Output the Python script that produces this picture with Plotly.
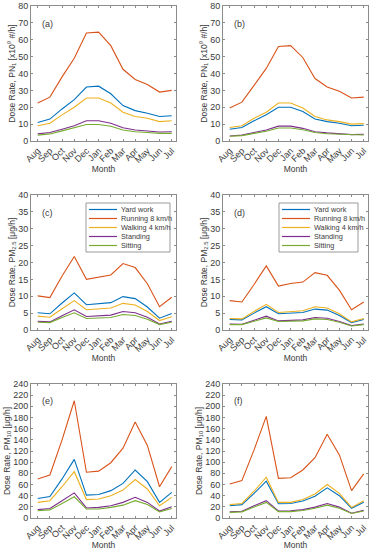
import plotly.graph_objects as go

months = ["Aug", "Sep", "Oct", "Nov", "Dec", "Jan", "Feb", "Mar", "Apr", "May", "Jun", "Jul"]
series_names = ["Yard work", "Running 8 km/h", "Walking 4 km/h", "Standing", "Sitting"]
colors = ["#0072BD", "#D95319", "#EDB120", "#7E2F8E", "#77AC30"]

# Panel (a) PN1
a_yard = [11, 13, 19, 24.5, 32, 32.5, 28, 21, 18, 16.5, 14.5, 15]
a_run = [22.5, 26, 38, 49, 64, 64.5, 56.5, 42.5, 36.5, 33.5, 29, 30]
a_walk = [9, 10.5, 15.5, 20, 25.5, 25.5, 22.5, 17, 14.5, 13.5, 11.5, 12]
a_stand = [4.2, 5, 7, 9, 12, 12, 10.5, 7.8, 6.5, 6, 5.3, 5.5]
a_sit = [3.5, 4.2, 6, 7.7, 9.8, 9.8, 8.7, 6.5, 5.5, 5, 4.5, 4.5]

# Panel (b) PN1
b_yard = [7, 8, 12, 15.5, 20, 20, 17.5, 13, 11.5, 10.5, 9, 9.3]
b_run = [19.5, 23, 33, 43, 56, 56.5, 49.5, 37, 32, 29.5, 25.5, 26]
b_walk = [8, 9, 13.5, 17, 22.5, 22.5, 19.5, 14.5, 12.5, 11.5, 10, 10.3]
b_stand = [3, 3.5, 5, 6.5, 8.8, 8.8, 7.5, 5.5, 4.8, 4.3, 3.8, 4]
b_sit = [2.8, 3.2, 4.5, 5.8, 7.7, 7.7, 6.7, 5, 4.3, 4, 3.5, 3.6]

# Panel (c) PM2.5
c_yard = [5.1, 4.8, 8, 11, 7.5, 7.9, 8.1, 9.9, 9.3, 6.8, 3.5, 4.9]
c_run = [10.1, 9.6, 16, 21.8, 15, 15.7, 16.3, 19.7, 18.5, 13.7, 6.9, 9.7]
c_walk = [4.1, 3.8, 6.3, 8.7, 6, 6.3, 6.5, 7.9, 7.4, 5.5, 2.8, 3.9]
c_stand = [2.6, 2.4, 4.2, 6, 4, 4.2, 4.4, 5.5, 5.1, 3.8, 1.8, 2.6]
c_sit = [2.3, 2.2, 3.7, 5.1, 3.4, 3.6, 3.7, 4.6, 4.3, 3.2, 1.6, 2.3]

# Panel (d) PM2.5
d_yard = [3.1, 3.0, 5, 6.9, 4.8, 5.0, 5.2, 6.2, 5.9, 4.3, 2.2, 3.1]
d_run = [8.7, 8.3, 13.5, 19, 13, 13.8, 14.2, 17, 16.2, 11.8, 6, 8.3]
d_walk = [3.4, 3.3, 5.5, 7.6, 5.2, 5.5, 5.7, 6.9, 6.5, 4.8, 2.4, 3.4]
d_stand = [1.8, 1.7, 2.9, 4.1, 2.7, 2.9, 3.0, 3.7, 3.5, 2.5, 1.3, 1.8]
d_sit = [1.6, 1.6, 2.6, 3.6, 2.5, 2.6, 2.7, 3.3, 3.1, 2.3, 1.2, 1.6]

# Panel (e) PM10
e_yard = [35, 38.5, 70, 105, 41, 42, 49, 62, 86, 65, 28, 46]
e_run = [70, 77, 140, 210, 82, 84, 99, 125, 172, 130, 56, 92]
e_walk = [28, 31, 56, 83, 33, 34, 40, 50, 69, 52, 22, 37]
e_stand = [15, 17, 31, 45, 18, 19, 22, 28, 37, 28, 12.5, 20]
e_sit = [13, 14.5, 26, 38, 16, 16, 19, 23, 31, 24, 11, 17]

# Panel (f) PM10
f_yard = [22, 24, 44, 66, 25.5, 26, 30.5, 39, 54, 40, 17.5, 28]
f_run = [61, 67, 122, 182, 71, 72, 86, 108, 150, 113, 49, 79]
f_walk = [24, 26, 48, 73, 28, 28, 33, 43, 60, 44, 19, 31]
f_stand = [11, 12, 22, 31, 12.5, 13, 15, 19.5, 26, 19.5, 8.5, 14]
f_sit = [10, 11, 19.5, 28, 11.5, 11.5, 13.5, 17.5, 23, 17.5, 8, 12.5]

panel_labels = ["(a)", "(b)", "(c)", "(d)", "(e)", "(f)"]
y_titles = [
    "Dose Rate, PN<sub>1</sub> [x10<sup>9</sup> #/h]",
    "Dose Rate, PN<sub>1</sub> [x10<sup>9</sup> #/h]",
    "Dose Rate, PM<sub>2.5</sub> [μg/h]",
    "Dose Rate, PM<sub>2.5</sub> [μg/h]",
    "Dose Rate, PM<sub>10</sub> [μg/h]",
    "Dose Rate, PM<sub>10</sub> [μg/h]",
]
y_ranges = [[0, 80], [0, 80], [0, 40], [0, 40], [0, 240], [0, 240]]
y_dticks = [10, 10, 5, 5, 20, 20]
y_tick0 = [10, 10, 5, 5, 20, 20]

panels = [
    [a_yard, a_run, a_walk, a_stand, a_sit],
    [b_yard, b_run, b_walk, b_stand, b_sit],
    [c_yard, c_run, c_walk, c_stand, c_sit],
    [d_yard, d_run, d_walk, d_stand, d_sit],
    [e_yard, e_run, e_walk, e_stand, e_sit],
    [f_yard, f_run, f_walk, f_stand, f_sit],
]
W, H = 376, 550
x_px = [(31, 176), (223, 368)]
y_px = [(6, 141), (195, 330), (384, 518)]

FONT = "Liberation Sans, Arial, sans-serif"
AX_COL = "#8c8c8c"
TXT_COL = "#3a3a3a"

fig = go.Figure()
xidx = list(range(len(months)))

for p in range(6):
    r, c = divmod(p, 2)
    n = p + 1
    xa = "x" if n == 1 else f"x{n}"
    ya = "y" if n == 1 else f"y{n}"
    for s in range(5):
        fig.add_trace(go.Scatter(
            x=xidx, y=panels[p][s], mode="lines", name=series_names[s],
            line=dict(color=colors[s], width=1.1), xaxis=xa, yaxis=ya,
            showlegend=False, hoverinfo="skip"))
    x0, x1 = x_px[c]
    yt, yb = y_px[r]
    xdom = [x0 / W, x1 / W]
    ydom = [1 - yb / H, 1 - yt / H]
    common = dict(showline=True, linecolor=AX_COL, linewidth=1, mirror="ticks",
                  ticks="inside", ticklen=2, tickcolor=AX_COL, showgrid=False,
                  zeroline=False, automargin=False,
                  tickfont=dict(size=9, color=TXT_COL, family=FONT))
    fig.layout[f"xaxis{'' if n == 1 else n}"] = dict(
        domain=xdom, anchor=ya, range=[-0.55, 11.35],
        tickmode="array", tickvals=xidx, ticktext=months, tickangle=-45,
        title=dict(text="Month", font=dict(size=8.5, color=TXT_COL, family=FONT), standoff=1),
        **common)
    fig.layout[f"yaxis{'' if n == 1 else n}"] = dict(
        domain=ydom, anchor=xa, range=y_ranges[p], tick0=y_tick0[p], dtick=y_dticks[p],
        title=dict(text=y_titles[p], font=dict(size=8.5, color=TXT_COL, family=FONT), standoff=1),
        **common)
    fig.add_annotation(text=panel_labels[p], xref=f"{xa} domain", yref=f"{ya} domain",
                       x=0.06, y=0.87, xanchor="left", yanchor="middle", showarrow=False,
                       font=dict(size=9, color=TXT_COL, family=FONT))

# Manual legends for panels (c) and (d)
for c, (bx0, bx1) in enumerate([(86, 170), (279, 358)]):
    by0, by1 = 203, 252
    fig.add_shape(type="rect", xref="paper", yref="paper",
                  x0=bx0 / W, x1=bx1 / W, y0=1 - by1 / H, y1=1 - by0 / H,
                  line=dict(color="#9a9a9a", width=1), fillcolor="white", layer="above")
    for s in range(5):
        yy = 209.5 + s * 9
        fig.add_shape(type="line", xref="paper", yref="paper",
                      x0=(bx0 + 3) / W, x1=(bx0 + 31) / W, y0=1 - yy / H, y1=1 - yy / H,
                      line=dict(color=colors[s], width=1.2), layer="above")
        fig.add_annotation(text=series_names[s], xref="paper", yref="paper",
                           x=(bx0 + 33) / W, y=1 - yy / H, xanchor="left", yanchor="middle",
                           showarrow=False, font=dict(size=7.3, color=TXT_COL, family=FONT))

fig.update_layout(width=W, height=H, margin=dict(l=0, r=0, t=0, b=0),
                  paper_bgcolor="white", plot_bgcolor="white", showlegend=False,
                  font=dict(family=FONT, color=TXT_COL))
fig.write_html("out.html", config={"displayModeBar": False, "staticPlot": True},
               post_script="document.body.style.margin='0';document.body.style.overflow='hidden';")
